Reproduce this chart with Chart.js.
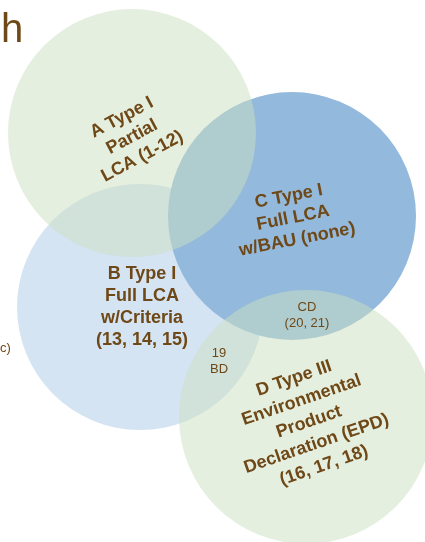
<!DOCTYPE html>
<html lang="en">
<head>
    <meta charset="UTF-8">
    <title>Ecolabel types</title>
    <script src="https://cdn.jsdelivr.net/npm/chart.js"></script>
    <style>
        body { margin: 0; background: #ffffff; }
        #venn { display: block; }
    </style>
</head>
<body>
    <canvas id="venn" width="425" height="542"></canvas>
    <script>
        // circles: one per ecolabel type (axis units = canvas pixels, so r is too)
        var categories = ['A', 'B', 'C', 'D'];
        var centerX = [132, 140, 292, 306];
        var centerY = [133, 307, 216, 417];
        var radii = [124, 123, 124, 127];
        var setLabels = [
            ['A Type I', 'Partial', 'LCA (1-12)'],
            ['B Type I', 'Full LCA', 'w/Criteria', '(13, 14, 15)'],
            ['C Type I', 'Full LCA', 'w/BAU (none)'],
            ['D Type III', 'Environmental', 'Product', 'Declaration (EPD)', '(16, 17, 18)']
        ];
        var overlapLabels = [['CD', '(20, 21)'], ['19', 'BD']];

        // look of each circle and where its text sits
        var fills = ['rgba(203,223,191,0.5)', '#d4e4f2', '#93b9dd', 'rgba(203,223,191,0.5)'];
        var drawOrder = [0, 3, 2, 1];  // lower = on top
        var labelPos = [
            { x: 132, y: 137, rot: -28, lh: 22 },
            { x: 142, y: 307, rot: 0, lh: 22 },
            { x: 293, y: 218, rot: -11, lh: 22 },
            { x: 309, y: 422, rot: -19, lh: 23 }
        ];
        var overlapPos = [{ x: 307, y: 315 }, { x: 219, y: 361 }];
        var textColor = '#6e4817';

        function drawLines(ctx, lines, x, y, rot, lineH) {
            ctx.save();
            ctx.translate(x, y);
            ctx.rotate(rot * Math.PI / 180);
            var top = -(lines.length - 1) * lineH / 2;
            lines.forEach(function (t, i) {
                ctx.fillText(t, 0, top + i * lineH);
            });
            ctx.restore();
        }

        var textPlugin = {
            id: 'vennText',
            afterDatasetsDraw: function (chart) {
                var ctx = chart.ctx;
                var sx = chart.scales.x, sy = chart.scales.y;
                ctx.save();
                ctx.fillStyle = textColor;
                ctx.textAlign = 'center';
                ctx.textBaseline = 'middle';
                ctx.font = 'bold 18px "Liberation Sans", Arial, sans-serif';
                setLabels.forEach(function (lines, i) {
                    var p = labelPos[i];
                    drawLines(ctx, lines, sx.getPixelForValue(p.x), sy.getPixelForValue(p.y), p.rot, p.lh);
                });
                ctx.font = '13px "Liberation Sans", Arial, sans-serif';
                overlapLabels.forEach(function (lines, i) {
                    var p = overlapPos[i];
                    drawLines(ctx, lines, sx.getPixelForValue(p.x), sy.getPixelForValue(p.y), 0, 16);
                });
                // cut-off text at the left edge of the figure
                ctx.textAlign = 'left';
                ctx.textBaseline = 'alphabetic';
                ctx.fillText('c)', 0, 352);
                ctx.font = '40px "Liberation Sans", Arial, sans-serif';
                ctx.fillText('h', 1, 42);
                ctx.restore();
            }
        };

        var datasets = categories.map(function (c, i) {
            return {
                label: c,
                data: [{ x: centerX[i], y: centerY[i], r: radii[i] }],
                backgroundColor: fills[i],
                borderWidth: 0,
                order: drawOrder[i],
                clip: false
            };
        });

        new Chart(document.getElementById('venn').getContext('2d'), {
            type: 'bubble',
            data: { datasets: datasets },
            options: {
                responsive: false,
                animation: false,
                events: [],
                layout: { padding: 0, autoPadding: false },
                scales: {
                    x: { type: 'linear', min: 0, max: 425, display: false },
                    y: { type: 'linear', min: 0, max: 542, reverse: true, display: false }
                },
                plugins: {
                    legend: { display: false },
                    tooltip: { enabled: false }
                }
            },
            plugins: [textPlugin]
        });
    </script>
</body>
</html>
